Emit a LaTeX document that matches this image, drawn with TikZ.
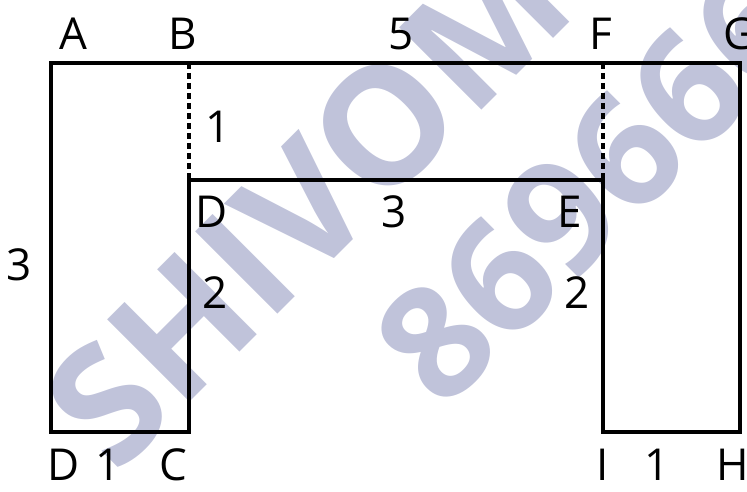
\documentclass[tikz,border=0pt]{standalone}
\usepackage{fontspec}
\setmainfont{Open Sans}
\newfontfamily\wmfont{Open Sans Bold}
\begin{document}
\begin{tikzpicture}[x=1pt,y=1pt,
  lbl/.style={font=\fontsize{44}{44}\selectfont, text=black, inner sep=0pt},
  edge/.style={line width=4pt, line join=miter},
  dotline/.style={line width=4pt, dash pattern=on 6pt off 4pt},
  wm/.style={font=\wmfont, text={rgb,255:red,192;green,195;blue,218}, rotate=45, inner sep=0pt}]
\useasboundingbox (0,0) rectangle (747,491);
% watermark
\node[wm, font=\wmfont\fontsize{163}{163}\selectfont] (wm1) at (307,288) {SHIVOM};
\node[wm, font=\wmfont\fontsize{156}{156}\selectfont] (wm2) at (593,307) {869666};
% corners
\coordinate (A) at (51,428);
\coordinate (B) at (189,428);
\coordinate (F) at (603,428);
\coordinate (G) at (740,428);
\coordinate (H) at (740,59);
\coordinate (I) at (603,59);
\coordinate (E) at (603,311);
\coordinate (D) at (189,311);
\coordinate (C) at (189,59);
\coordinate (Dp) at (51,59);
\draw[edge] (A) -- (G) -- (H) -- (I) -- (E) -- (D) -- (C) -- (Dp) -- cycle;
\draw[dotline] (B) -- (D);
\draw[dotline] (F) -- (E);
% labels
\node[lbl] (lA) at (73,457) {A};
\node[lbl] (lB) at (183,457) {B};
\node[lbl] (l5) at (401,457) {5};
\node[lbl] (lF) at (601,457) {F};
\node[lbl] (lG) at (740,457) {G};
\node[lbl] (l1) at (218,364) {1};
\node[lbl] (lD) at (212,279) {D};
\node[lbl] (l3) at (394,279) {3};
\node[lbl] (lE) at (570,279) {E};
\node[lbl] (l3b) at (19,226) {3};
\node[lbl] (l2) at (215,198) {2};
\node[lbl] (l2b) at (577,198) {2};
\node[lbl] (lD2) at (64,26) {D};
\node[lbl] (l1b) at (108,26) {1};
\node[lbl] (lC) at (173,26) {C};
\node[lbl] (lI) at (603,26) {I};
\node[lbl] (l1c) at (657,26) {1};
\node[lbl] (lH) at (733,26) {H};
\end{tikzpicture}
\end{document}
